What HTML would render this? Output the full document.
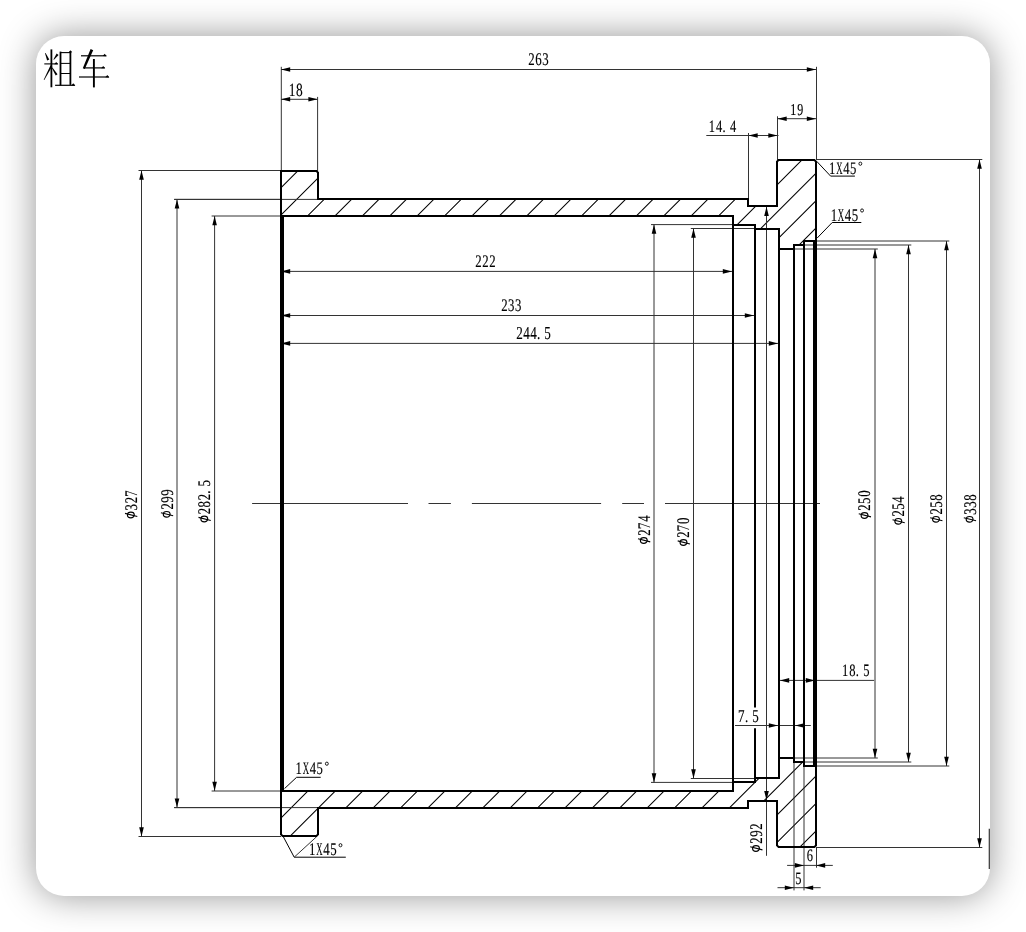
<!DOCTYPE html>
<html><head><meta charset="utf-8"><style>
html,body{margin:0;padding:0;width:1026px;height:932px;overflow:hidden;background:#fff;}
.card{position:absolute;left:36px;top:36px;width:954px;height:860px;border-radius:28px;background:#fff;box-shadow:0 0 36px rgba(0,0,0,0.42);}
svg{position:absolute;left:0;top:0;will-change:transform;}
text{font-family:"Liberation Serif",serif;fill:#000;text-rendering:geometricPrecision;stroke:#000;stroke-width:0.15px;}
</style></head><body>
<div class="card"></div>
<svg width="1026" height="932" viewBox="0 0 1026 932">
<defs><clipPath id="ct"><polygon points="281,171 318,171 318,199 748,199 748,206 777,206 777,160 816,160 816,241 816,241 804,241 804,245 794,245 794,249 779,249 779,229 755,229 755,225 733,225 733,216 281,216"/><polygon points="281,836 318,836 318,808 748,808 748,801 777,801 777,847 816,847 816,766 816,766 804,766 804,762 794,762 794,758 779,758 779,778 755,778 755,782 733,782 733,791 281,791"/></clipPath></defs>
<path d="M270,116.50L830,-443.50M270,143.90L830,-416.10M270,171.30L830,-388.70M270,198.70L830,-361.30M270,226.10L830,-333.90M270,253.50L830,-306.50M270,280.90L830,-279.10M270,308.30L830,-251.70M270,335.70L830,-224.30M270,363.10L830,-196.90M270,390.50L830,-169.50M270,417.90L830,-142.10M270,445.30L830,-114.70M270,472.70L830,-87.30M270,500.10L830,-59.90M270,527.50L830,-32.50M270,554.90L830,-5.10M270,582.30L830,22.30M270,609.70L830,49.70M270,637.10L830,77.10M270,664.50L830,104.50M270,691.90L830,131.90M270,719.30L830,159.30M270,746.70L830,186.70M270,774.10L830,214.10M270,801.50L830,241.50M270,828.90L830,268.90M270,856.30L830,296.30M270,883.70L830,323.70M270,911.10L830,351.10M270,938.50L830,378.50M270,965.90L830,405.90M270,993.30L830,433.30M270,1020.70L830,460.70M270,1048.10L830,488.10M270,1075.50L830,515.50M270,1102.90L830,542.90M270,1130.30L830,570.30M270,1157.70L830,597.70M270,1185.10L830,625.10M270,1212.50L830,652.50M270,1239.90L830,679.90M270,1267.30L830,707.30M270,1294.70L830,734.70M270,1322.10L830,762.10M270,1349.50L830,789.50M270,1376.90L830,816.90M270,1404.30L830,844.30M270,1431.70L830,871.70M270,1459.10L830,899.10M270,1486.50L830,926.50M270,1513.90L830,953.90M270,1541.30L830,981.30M270,1568.70L830,1008.70M270,1596.10L830,1036.10" stroke="#000" stroke-width="1.05" fill="none" clip-path="url(#ct)"/>
<line x1="281.3" y1="66.8" x2="281.3" y2="171" stroke="#333" stroke-width="1.0"/>
<line x1="816.5" y1="66.8" x2="816.5" y2="160" stroke="#333" stroke-width="1.0"/>
<line x1="281" y1="69.5" x2="816" y2="69.5" stroke="#333" stroke-width="1.0"/>
<polygon points="281,69.5 290.2,67.2 290.2,71.8" fill="#000"/>
<polygon points="816,69.5 806.8,67.2 806.8,71.8" fill="#000"/>
<line x1="317.6" y1="96.9" x2="317.6" y2="171" stroke="#333" stroke-width="1.0"/>
<line x1="281" y1="99.3" x2="317.6" y2="99.3" stroke="#333" stroke-width="1.0"/>
<polygon points="281,99.3 290.2,97.0 290.2,101.6" fill="#000"/>
<polygon points="317.6,99.3 308.40000000000003,97.0 308.40000000000003,101.6" fill="#000"/>
<line x1="748.5" y1="133.0" x2="748.5" y2="199" stroke="#333" stroke-width="1.0"/>
<line x1="777.5" y1="116.3" x2="777.5" y2="160" stroke="#333" stroke-width="1.0"/>
<line x1="706.3" y1="135.5" x2="778.5" y2="135.5" stroke="#333" stroke-width="1.0"/>
<polygon points="748.5,135.5 757.7,133.2 757.7,137.8" fill="#000"/>
<polygon points="777.5,135.5 768.3,133.2 768.3,137.8" fill="#000"/>
<line x1="777.5" y1="118.7" x2="816" y2="118.7" stroke="#333" stroke-width="1.0"/>
<polygon points="777.5,118.7 786.7,116.4 786.7,121.0" fill="#000"/>
<polygon points="816,118.7 806.8,116.4 806.8,121.0" fill="#000"/>
<line x1="138.5" y1="170.5" x2="281" y2="170.5" stroke="#333" stroke-width="1.0"/>
<line x1="138.5" y1="836.5" x2="281" y2="836.5" stroke="#333" stroke-width="1.0"/>
<line x1="141.5" y1="170.5" x2="141.5" y2="836.5" stroke="#333" stroke-width="1.0"/>
<polygon points="141.5,170.5 139.2,179.7 143.8,179.7" fill="#000"/>
<polygon points="141.5,836.5 139.2,827.3 143.8,827.3" fill="#000"/>
<line x1="174.0" y1="199.4" x2="281" y2="199.4" stroke="#333" stroke-width="1.0"/>
<line x1="174.0" y1="807.6" x2="281" y2="807.6" stroke="#333" stroke-width="1.0"/>
<line x1="177.0" y1="199.4" x2="177.0" y2="807.6" stroke="#333" stroke-width="1.0"/>
<polygon points="177.0,199.4 174.7,208.6 179.3,208.6" fill="#000"/>
<polygon points="177.0,807.6 174.7,798.4 179.3,798.4" fill="#000"/>
<line x1="211.6" y1="216.0" x2="281" y2="216.0" stroke="#333" stroke-width="1.0"/>
<line x1="211.6" y1="791.0" x2="281" y2="791.0" stroke="#333" stroke-width="1.0"/>
<line x1="214.6" y1="216.0" x2="214.6" y2="791.0" stroke="#333" stroke-width="1.0"/>
<polygon points="214.6,216.0 212.29999999999998,225.2 216.9,225.2" fill="#000"/>
<polygon points="214.6,791.0 212.29999999999998,781.8 216.9,781.8" fill="#000"/>
<line x1="794" y1="249.0" x2="877.8" y2="249.0" stroke="#333" stroke-width="1.0"/>
<line x1="794" y1="758.0" x2="877.8" y2="758.0" stroke="#333" stroke-width="1.0"/>
<line x1="875.0" y1="249.0" x2="875.0" y2="758.0" stroke="#333" stroke-width="1.0"/>
<polygon points="875.0,249.0 872.7,258.2 877.3,258.2" fill="#000"/>
<polygon points="875.0,758.0 872.7,748.8 877.3,748.8" fill="#000"/>
<line x1="804" y1="245.0" x2="911.3" y2="245.0" stroke="#333" stroke-width="1.0"/>
<line x1="804" y1="762.0" x2="911.3" y2="762.0" stroke="#333" stroke-width="1.0"/>
<line x1="908.5" y1="245.0" x2="908.5" y2="762.0" stroke="#333" stroke-width="1.0"/>
<polygon points="908.5,245.0 906.2,254.2 910.8,254.2" fill="#000"/>
<polygon points="908.5,762.0 906.2,752.8 910.8,752.8" fill="#000"/>
<line x1="816" y1="241.0" x2="949.3" y2="241.0" stroke="#333" stroke-width="1.0"/>
<line x1="816" y1="766.0" x2="949.3" y2="766.0" stroke="#333" stroke-width="1.0"/>
<line x1="946.5" y1="241.0" x2="946.5" y2="766.0" stroke="#333" stroke-width="1.0"/>
<polygon points="946.5,241.0 944.2,250.2 948.8,250.2" fill="#000"/>
<polygon points="946.5,766.0 944.2,756.8 948.8,756.8" fill="#000"/>
<line x1="816" y1="159.5" x2="982.3" y2="159.5" stroke="#333" stroke-width="1.0"/>
<line x1="816" y1="847.5" x2="982.3" y2="847.5" stroke="#333" stroke-width="1.0"/>
<line x1="979.5" y1="159.5" x2="979.5" y2="847.5" stroke="#333" stroke-width="1.0"/>
<polygon points="979.5,159.5 977.2,168.7 981.8,168.7" fill="#000"/>
<polygon points="979.5,847.5 977.2,838.3 981.8,838.3" fill="#000"/>
<line x1="651.0" y1="224.6" x2="733" y2="224.6" stroke="#333" stroke-width="1.0"/>
<line x1="651.0" y1="782.4" x2="733" y2="782.4" stroke="#333" stroke-width="1.0"/>
<line x1="654.0" y1="224.6" x2="654.0" y2="782.4" stroke="#333" stroke-width="1.0"/>
<polygon points="654.0,224.6 651.7,233.79999999999998 656.3,233.79999999999998" fill="#000"/>
<polygon points="654.0,782.4 651.7,773.1999999999999 656.3,773.1999999999999" fill="#000"/>
<line x1="690.8" y1="228.5" x2="755" y2="228.5" stroke="#333" stroke-width="1.0"/>
<line x1="690.8" y1="778.5" x2="755" y2="778.5" stroke="#333" stroke-width="1.0"/>
<line x1="693.5" y1="228.5" x2="693.5" y2="778.5" stroke="#333" stroke-width="1.0"/>
<polygon points="693.5,228.5 691.2,237.7 695.8,237.7" fill="#000"/>
<polygon points="693.5,778.5 691.2,769.3 695.8,769.3" fill="#000"/>
<line x1="766.5" y1="206" x2="766.5" y2="855.8" stroke="#333" stroke-width="1.0"/>
<polygon points="766.5,206.8 764.2,216.0 768.8,216.0" fill="#000"/>
<polygon points="766.5,800.2 764.2,791.0 768.8,791.0" fill="#000"/>
<line x1="281" y1="271.4" x2="733" y2="271.4" stroke="#333" stroke-width="1.0"/>
<polygon points="281,271.4 290.2,269.09999999999997 290.2,273.7" fill="#000"/>
<polygon points="732,271.4 722.8,269.09999999999997 722.8,273.7" fill="#000"/>
<line x1="281" y1="315.5" x2="755" y2="315.5" stroke="#333" stroke-width="1.0"/>
<polygon points="281,315.5 290.2,313.2 290.2,317.8" fill="#000"/>
<polygon points="754,315.5 744.8,313.2 744.8,317.8" fill="#000"/>
<line x1="281" y1="343.4" x2="779" y2="343.4" stroke="#333" stroke-width="1.0"/>
<polygon points="281,343.4 290.2,341.09999999999997 290.2,345.7" fill="#000"/>
<polygon points="778,343.4 768.8,341.09999999999997 768.8,345.7" fill="#000"/>
<line x1="779" y1="680.4" x2="874.1" y2="680.4" stroke="#333" stroke-width="1.0"/>
<polygon points="780,680.4 789.2,678.1 789.2,682.6999999999999" fill="#000"/>
<polygon points="815,680.4 805.8,678.1 805.8,682.6999999999999" fill="#000"/>
<line x1="735.0" y1="725.5" x2="810.8" y2="725.5" stroke="#333" stroke-width="1.0"/>
<polygon points="778,725.5 768.8,723.2 768.8,727.8" fill="#000"/>
<polygon points="795,725.5 804.2,723.2 804.2,727.8" fill="#000"/>
<line x1="794" y1="762" x2="794" y2="890.4" stroke="#333" stroke-width="1.0"/>
<line x1="804" y1="766" x2="804" y2="890.4" stroke="#333" stroke-width="1.0"/>
<line x1="816.5" y1="847" x2="816.5" y2="867.7" stroke="#333" stroke-width="1.0"/>
<line x1="787.1" y1="865.4" x2="832.8" y2="865.4" stroke="#333" stroke-width="1.0"/>
<polygon points="804,865.4 794.8,863.1 794.8,867.6999999999999" fill="#000"/>
<polygon points="816,865.4 825.2,863.1 825.2,867.6999999999999" fill="#000"/>
<line x1="777.5" y1="887.7" x2="820.7" y2="887.7" stroke="#333" stroke-width="1.0"/>
<polygon points="794,887.7 784.8,885.4000000000001 784.8,890.0" fill="#000"/>
<polygon points="804,887.7 813.2,885.4000000000001 813.2,890.0" fill="#000"/>
<line x1="174.4" y1="199.4" x2="318" y2="199.4" stroke="#333" stroke-width="1.0"/>
<line x1="174.4" y1="807.6" x2="318" y2="807.6" stroke="#333" stroke-width="1.0"/>
<polyline points="816.7,161.3 830.6,176.1 854.9,176.1" fill="none" stroke="#000" stroke-width="1.0" stroke-linejoin="miter"/>
<polyline points="817.2,238.0 832.2,222.5 861.3,222.5" fill="none" stroke="#000" stroke-width="1.0" stroke-linejoin="miter"/>
<polyline points="284.5,788.6 296.6,777.3 320.7,777.3" fill="none" stroke="#000" stroke-width="1.0" stroke-linejoin="miter"/>
<polyline points="283.2,836.5 294.2,857.2 345.8,857.2" fill="none" stroke="#000" stroke-width="1.0" stroke-linejoin="miter"/>
<line x1="294.2" y1="857.2" x2="316.8" y2="836.5" stroke="#333" stroke-width="1.0"/>
<line x1="252.1" y1="503.5" x2="408.0" y2="503.5" stroke="#333" stroke-width="1.0"/>
<line x1="428.5" y1="503.5" x2="450.9" y2="503.5" stroke="#333" stroke-width="1.0"/>
<line x1="471.9" y1="503.5" x2="601.1" y2="503.5" stroke="#333" stroke-width="1.0"/>
<line x1="622.2" y1="503.5" x2="644.0" y2="503.5" stroke="#333" stroke-width="1.0"/>
<line x1="665.0" y1="503.5" x2="820.0" y2="503.5" stroke="#333" stroke-width="1.0"/>
<polygon points="281,171 316.4,171 318,172.6 318,199 748,199 748,206 777,206 777,161.6 778.6,160 814.4,160 816,161.6 816,845.4 814.4,847 778.6,847 777,845.4 777,801 748,801 748,808 318,808 318,834.4 316.4,836 282.6,836 281,834.4" fill="none" stroke="#000" stroke-width="2.0" stroke-linejoin="miter"/>
<polyline points="281,216 733,216 733,225 755,225 755,229 779,229 779,249 794,249 794,245 804,245 804,241 816,241" fill="none" stroke="#000" stroke-width="2.0" stroke-linejoin="miter"/>
<polyline points="281,791 733,791 733,782 755,782 755,778 779,778 779,758 794,758 794,762 804,762 804,766 816,766" fill="none" stroke="#000" stroke-width="2.0" stroke-linejoin="miter"/>
<line x1="733" y1="216" x2="733" y2="791" stroke="#000" stroke-width="2.0"/>
<line x1="755" y1="225" x2="755" y2="707.6" stroke="#000" stroke-width="2.0"/>
<line x1="755" y1="728.3" x2="755" y2="782" stroke="#000" stroke-width="2.0"/>
<line x1="779" y1="229" x2="779" y2="778" stroke="#000" stroke-width="2.0"/>
<line x1="794" y1="245" x2="794" y2="762" stroke="#000" stroke-width="2.0"/>
<line x1="804" y1="241" x2="804" y2="766" stroke="#000" stroke-width="2.0"/>
<line x1="814" y1="241" x2="814" y2="766" stroke="#000" stroke-width="2.0"/>
<line x1="283" y1="216" x2="283" y2="791" stroke="#000" stroke-width="2.0"/>
<text transform="translate(528.31,64.70) scale(0.720,1)" font-size="17.89">2</text>
<text transform="translate(535.15,64.70) scale(0.720,1)" font-size="17.89">6</text>
<text transform="translate(542.18,64.70) scale(0.720,1)" font-size="17.89">3</text>
<text transform="translate(288.81,95.50) scale(0.720,1)" font-size="18.65">1</text>
<text transform="translate(295.99,95.50) scale(0.720,1)" font-size="18.65">8</text>
<text transform="translate(708.82,131.70) scale(0.720,1)" font-size="17.29">1</text>
<text transform="translate(715.96,131.70) scale(0.720,1)" font-size="17.29">4</text>
<text transform="translate(722.54,131.70) scale(0.720,1)" font-size="17.29">.</text>
<text transform="translate(729.96,131.70) scale(0.720,1)" font-size="17.29">4</text>
<text transform="translate(790.13,114.90) scale(0.720,1)" font-size="16.69">1</text>
<text transform="translate(797.35,114.90) scale(0.720,1)" font-size="16.69">9</text>
<text transform="translate(475.28,267.10) scale(0.720,1)" font-size="17.74">2</text>
<text transform="translate(482.28,267.10) scale(0.720,1)" font-size="17.74">2</text>
<text transform="translate(489.28,267.10) scale(0.720,1)" font-size="17.74">2</text>
<text transform="translate(501.18,311.00) scale(0.720,1)" font-size="17.74">2</text>
<text transform="translate(508.05,311.00) scale(0.720,1)" font-size="17.74">3</text>
<text transform="translate(515.05,311.00) scale(0.720,1)" font-size="17.74">3</text>
<text transform="translate(516.35,338.90) scale(0.720,1)" font-size="18.20">2</text>
<text transform="translate(523.25,338.90) scale(0.720,1)" font-size="18.20">4</text>
<text transform="translate(530.25,338.90) scale(0.720,1)" font-size="18.20">4</text>
<text transform="translate(536.91,338.90) scale(0.720,1)" font-size="18.20">.</text>
<text transform="translate(544.15,338.90) scale(0.720,1)" font-size="18.20">5</text>
<text transform="translate(842.09,676.40) scale(0.720,1)" font-size="17.44">1</text>
<text transform="translate(849.26,676.40) scale(0.720,1)" font-size="17.44">8</text>
<text transform="translate(855.83,676.40) scale(0.720,1)" font-size="17.44">.</text>
<text transform="translate(863.14,676.40) scale(0.720,1)" font-size="17.44">5</text>
<text transform="translate(738.01,721.80) scale(0.720,1)" font-size="18.05">7</text>
<text transform="translate(744.88,721.80) scale(0.720,1)" font-size="18.05">.</text>
<text transform="translate(752.13,721.80) scale(0.720,1)" font-size="18.05">5</text>
<text transform="translate(806.71,860.80) scale(0.720,1)" font-size="17.29">6</text>
<text transform="translate(795.32,883.60) scale(0.720,1)" font-size="17.29">5</text>
<text transform="translate(829.01,173.70) scale(0.720,1)" font-size="17.59">1</text>
<text transform="translate(836.17,173.70) scale(0.499,1)" font-size="17.59">X</text>
<text transform="translate(843.16,173.70) scale(0.720,1)" font-size="17.59">4</text>
<text transform="translate(850.06,173.70) scale(0.720,1)" font-size="17.59">5</text>
<ellipse cx="860.35" cy="163.70" rx="1.45" ry="1.6" fill="none" stroke="#000" stroke-width="0.9"/>
<text transform="translate(830.66,220.70) scale(0.720,1)" font-size="17.89">1</text>
<text transform="translate(837.87,220.70) scale(0.490,1)" font-size="17.89">X</text>
<text transform="translate(844.80,220.70) scale(0.720,1)" font-size="17.89">4</text>
<text transform="translate(851.71,220.70) scale(0.720,1)" font-size="17.89">5</text>
<ellipse cx="862.05" cy="210.50" rx="1.45" ry="1.6" fill="none" stroke="#000" stroke-width="0.9"/>
<text transform="translate(295.51,773.70) scale(0.720,1)" font-size="17.59">1</text>
<text transform="translate(302.67,773.70) scale(0.499,1)" font-size="17.59">X</text>
<text transform="translate(309.66,773.70) scale(0.720,1)" font-size="17.59">4</text>
<text transform="translate(316.56,773.70) scale(0.720,1)" font-size="17.59">5</text>
<ellipse cx="326.85" cy="763.70" rx="1.45" ry="1.6" fill="none" stroke="#000" stroke-width="0.9"/>
<text transform="translate(309.11,855.40) scale(0.720,1)" font-size="17.89">1</text>
<text transform="translate(316.32,855.40) scale(0.490,1)" font-size="17.89">X</text>
<text transform="translate(323.25,855.40) scale(0.720,1)" font-size="17.89">4</text>
<text transform="translate(330.16,855.40) scale(0.720,1)" font-size="17.89">5</text>
<ellipse cx="340.50" cy="845.20" rx="1.45" ry="1.6" fill="none" stroke="#000" stroke-width="0.9"/>
<g transform="translate(136.85,518.6) rotate(-90)">
<ellipse cx="3.55" cy="-6.00" rx="2.85" ry="3.4" fill="none" stroke="#000" stroke-width="1.2"/>
<line x1="5.20" y1="-11.80" x2="2.10" y2="0.45" stroke="#000" stroke-width="1.1"/>
<text transform="translate(8.15,-0.10) scale(0.720,1)" font-size="17.74">3</text>
<text transform="translate(15.28,-0.10) scale(0.720,1)" font-size="17.74">2</text>
<text transform="translate(21.97,-0.10) scale(0.720,1)" font-size="17.74">7</text>
</g>
<g transform="translate(172.7,517.9) rotate(-90)">
<ellipse cx="3.55" cy="-6.00" rx="2.85" ry="3.4" fill="none" stroke="#000" stroke-width="1.2"/>
<line x1="5.20" y1="-11.80" x2="2.10" y2="0.45" stroke="#000" stroke-width="1.1"/>
<text transform="translate(8.28,-0.10) scale(0.720,1)" font-size="17.74">2</text>
<text transform="translate(15.26,-0.10) scale(0.720,1)" font-size="17.74">9</text>
<text transform="translate(22.26,-0.10) scale(0.720,1)" font-size="17.74">9</text>
</g>
<g transform="translate(210.3,522.6) rotate(-90)">
<ellipse cx="3.55" cy="-6.00" rx="2.85" ry="3.4" fill="none" stroke="#000" stroke-width="1.2"/>
<line x1="5.20" y1="-11.80" x2="2.10" y2="0.45" stroke="#000" stroke-width="1.1"/>
<text transform="translate(8.28,-0.10) scale(0.720,1)" font-size="17.74">2</text>
<text transform="translate(15.21,-0.10) scale(0.720,1)" font-size="17.74">8</text>
<text transform="translate(22.28,-0.10) scale(0.720,1)" font-size="17.74">2</text>
<text transform="translate(28.80,-0.10) scale(0.720,1)" font-size="17.74">.</text>
<text transform="translate(36.08,-0.10) scale(0.720,1)" font-size="17.74">5</text>
</g>
<g transform="translate(649.8,544.0) rotate(-90)">
<ellipse cx="3.55" cy="-6.00" rx="2.85" ry="3.4" fill="none" stroke="#000" stroke-width="1.2"/>
<line x1="5.20" y1="-11.80" x2="2.10" y2="0.45" stroke="#000" stroke-width="1.1"/>
<text transform="translate(8.28,-0.10) scale(0.720,1)" font-size="17.74">2</text>
<text transform="translate(14.97,-0.10) scale(0.720,1)" font-size="17.74">7</text>
<text transform="translate(22.18,-0.10) scale(0.720,1)" font-size="17.74">4</text>
</g>
<g transform="translate(689.5,546.1) rotate(-90)">
<ellipse cx="3.55" cy="-6.00" rx="2.85" ry="3.4" fill="none" stroke="#000" stroke-width="1.2"/>
<line x1="5.20" y1="-11.80" x2="2.10" y2="0.45" stroke="#000" stroke-width="1.1"/>
<text transform="translate(8.28,-0.10) scale(0.720,1)" font-size="17.74">2</text>
<text transform="translate(14.97,-0.10) scale(0.720,1)" font-size="17.74">7</text>
<text transform="translate(22.21,-0.10) scale(0.720,1)" font-size="17.74">0</text>
</g>
<g transform="translate(762.0,852.0) rotate(-90)">
<ellipse cx="3.55" cy="-6.00" rx="2.85" ry="3.4" fill="none" stroke="#000" stroke-width="1.2"/>
<line x1="5.20" y1="-11.80" x2="2.10" y2="0.45" stroke="#000" stroke-width="1.1"/>
<text transform="translate(8.28,-0.10) scale(0.720,1)" font-size="17.74">2</text>
<text transform="translate(15.26,-0.10) scale(0.720,1)" font-size="17.74">9</text>
<text transform="translate(22.28,-0.10) scale(0.720,1)" font-size="17.74">2</text>
</g>
<g transform="translate(870.55,519.0) rotate(-90)">
<ellipse cx="3.55" cy="-6.00" rx="2.85" ry="3.4" fill="none" stroke="#000" stroke-width="1.2"/>
<line x1="5.20" y1="-11.80" x2="2.10" y2="0.45" stroke="#000" stroke-width="1.1"/>
<text transform="translate(8.28,-0.10) scale(0.720,1)" font-size="17.74">2</text>
<text transform="translate(15.08,-0.10) scale(0.720,1)" font-size="17.74">5</text>
<text transform="translate(22.21,-0.10) scale(0.720,1)" font-size="17.74">0</text>
</g>
<g transform="translate(904.3,524.9) rotate(-90)">
<ellipse cx="3.55" cy="-6.00" rx="2.85" ry="3.4" fill="none" stroke="#000" stroke-width="1.2"/>
<line x1="5.20" y1="-11.80" x2="2.10" y2="0.45" stroke="#000" stroke-width="1.1"/>
<text transform="translate(8.28,-0.10) scale(0.720,1)" font-size="17.74">2</text>
<text transform="translate(15.08,-0.10) scale(0.720,1)" font-size="17.74">5</text>
<text transform="translate(22.18,-0.10) scale(0.720,1)" font-size="17.74">4</text>
</g>
<g transform="translate(942.0,522.9) rotate(-90)">
<ellipse cx="3.55" cy="-6.00" rx="2.85" ry="3.4" fill="none" stroke="#000" stroke-width="1.2"/>
<line x1="5.20" y1="-11.80" x2="2.10" y2="0.45" stroke="#000" stroke-width="1.1"/>
<text transform="translate(8.28,-0.10) scale(0.720,1)" font-size="17.74">2</text>
<text transform="translate(15.08,-0.10) scale(0.720,1)" font-size="17.74">5</text>
<text transform="translate(22.21,-0.10) scale(0.720,1)" font-size="17.74">8</text>
</g>
<g transform="translate(975.6,522.9) rotate(-90)">
<ellipse cx="3.55" cy="-6.00" rx="2.85" ry="3.4" fill="none" stroke="#000" stroke-width="1.2"/>
<line x1="5.20" y1="-11.80" x2="2.10" y2="0.45" stroke="#000" stroke-width="1.1"/>
<text transform="translate(8.15,-0.10) scale(0.720,1)" font-size="17.74">3</text>
<text transform="translate(15.15,-0.10) scale(0.720,1)" font-size="17.74">3</text>
<text transform="translate(22.21,-0.10) scale(0.720,1)" font-size="17.74">8</text>
</g>
<g stroke="#000" fill="none"><path d="M45.02,53.32L47.10,60.38L49.30,59.42L45.58,53.08Z" fill="#000" stroke="none"/><path d="M56.63,53.50L53.42,59.40L53.98,59.80L58.57,54.90Z" fill="#000" stroke="none"/><path d="M44.3,63.9L57.8,63.9" stroke-width="1.1"/><path d="M54.199999999999996,64.2L56.199999999999996,61.9L58.199999999999996,64.3Z" fill="#000" stroke="none"/><path d="M51.4,49.4L51.4,87.3" stroke-width="1.8"/><path d="M50.56,65.36L43.73,79.76L44.27,80.04L52.24,66.24Z" fill="#000" stroke="none"/><path d="M51.76,67.81L55.67,75.38L57.53,74.22L52.44,67.39Z" fill="#000" stroke="none"/><path d="M60.5,51.6L60.5,85.4" stroke-width="1.8"/><path d="M70.4,51.0L70.4,84.9" stroke-width="1.8"/><path d="M60.5,52.6L70.4,52.6" stroke-width="1.1"/><path d="M68.6,52.9L70.3,50.3L72.2,52.3Z" fill="#000" stroke="none"/><path d="M60.5,63.4L70.4,63.4" stroke-width="1.0"/><path d="M60.5,73.5L70.4,73.5" stroke-width="1.0"/><path d="M55.1,85.3L74.9,85.3" stroke-width="1.2"/><path d="M71.30000000000001,85.6L73.30000000000001,83.3L75.30000000000001,85.7Z" fill="#000" stroke="none"/><path d="M81.0,55.8L106.3,55.8" stroke-width="1.2"/><path d="M102.7,56.099999999999994L104.7,53.8L106.7,56.199999999999996Z" fill="#000" stroke="none"/><path d="M90.61,49.05L82.79,68.17L84.81,69.03L93.19,50.15Z" fill="#000" stroke="none"/><path d="M83.8,67.9L104.8,67.9" stroke-width="1.2"/><path d="M101.2,68.2L103.2,65.9L105.2,68.30000000000001Z" fill="#000" stroke="none"/><path d="M79.0,77.0L108.9,77.0" stroke-width="1.2"/><path d="M105.30000000000001,77.3L107.30000000000001,75.0L109.30000000000001,77.4Z" fill="#000" stroke="none"/><path d="M93.9,59.0L93.9,87.4" stroke-width="1.9"/></g>
<line x1="989.3" y1="828.8" x2="989.3" y2="869" stroke="#333" stroke-width="1.2"/>
</svg>
</body></html>
